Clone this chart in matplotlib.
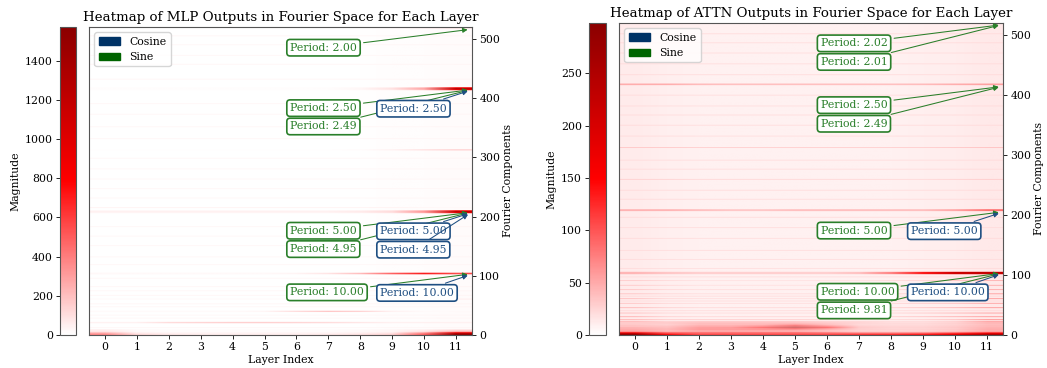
import numpy as np
import matplotlib
matplotlib.use('Agg')
import matplotlib.pyplot as plt
from matplotlib.colors import LinearSegmentedColormap
from matplotlib.patches import Patch

plt.rcParams['font.family'] = 'DejaVu Serif'

layers = list(range(12))
n_comp = 520

# ---- MLP heatmap data (magnitude per layer for notable components)
mlp_base = [6, 5, 4, 4, 4, 4, 4, 5, 6, 8, 10, 14]
mlp_rows = [0, 1, 2, 3, 4, 6, 8, 20, 21, 39, 40, 60, 102, 103, 104,
            205, 206, 207, 208, 209, 214, 311, 412, 413, 414, 415, 416, 516]
mlp_vals = [
    [380, 130, 80, 60, 60, 60, 60, 80, 100, 150, 500, 1572],
    [340, 110, 60, 50, 50, 50, 50, 60, 80, 120, 450, 1450],
    [300, 80, 50, 40, 40, 40, 40, 40, 60, 100, 400, 1300],
    [250, 60, 40, 40, 40, 40, 40, 40, 50, 80, 350, 1100],
    [200, 50, 30, 30, 30, 30, 30, 30, 40, 60, 250, 800],
    [150, 40, 30, 30, 30, 30, 30, 30, 40, 60, 150, 400],
    [120, 40, 30, 30, 30, 30, 30, 30, 40, 60, 100, 200],
    [60, 60, 150, 180, 200, 200, 180, 150, 100, 60, 60, 60],
    [40, 40, 100, 120, 140, 140, 120, 100, 70, 40, 40, 40],
    [20, 20, 20, 20, 20, 40, 150, 250, 200, 60, 20, 20],
    [15, 15, 15, 15, 15, 30, 100, 150, 120, 40, 15, 15],
    [30, 30, 30, 30, 30, 30, 30, 30, 40, 60, 100, 80],
    [20, 20, 20, 20, 20, 20, 30, 60, 150, 400, 600, 450],
    [20, 20, 20, 20, 20, 20, 40, 100, 250, 550, 850, 650],
    [20, 20, 20, 20, 20, 20, 30, 60, 150, 400, 600, 450],
    [30, 30, 30, 30, 30, 30, 30, 30, 40, 80, 250, 800],
    [40, 40, 40, 40, 40, 40, 40, 40, 60, 100, 300, 1100],
    [50, 50, 50, 50, 50, 50, 50, 50, 70, 120, 350, 1250],
    [40, 40, 40, 40, 40, 40, 40, 40, 60, 100, 300, 1100],
    [30, 30, 30, 30, 30, 30, 30, 30, 40, 80, 250, 800],
    [60, 60, 60, 60, 60, 60, 60, 60, 60, 60, 40, 30],
    [10, 10, 10, 10, 10, 10, 10, 10, 30, 80, 200, 300],
    [10, 10, 10, 10, 10, 10, 10, 10, 20, 60, 200, 800],
    [10, 10, 10, 10, 10, 10, 10, 10, 30, 80, 250, 1100],
    [10, 10, 10, 10, 10, 10, 10, 10, 30, 100, 300, 1300],
    [10, 10, 10, 10, 10, 10, 10, 10, 30, 80, 250, 1100],
    [10, 10, 10, 10, 10, 10, 10, 10, 20, 60, 200, 800],
    [10, 10, 10, 10, 10, 10, 10, 10, 10, 30, 80, 150],
]
mlp_faint_rows = [12, 28, 33, 47, 52, 66, 74, 81, 95, 118, 131, 150, 166, 182, 230, 246, 262,
                  279, 297, 330, 350, 371, 389, 430, 455, 470, 488, 503]
mlp_faint_level = 40

# ---- ATTN heatmap data
attn_base = [12, 10, 9, 9, 9, 9, 9, 9, 9, 10, 11, 13]
attn_rows = [0, 1, 2, 3, 4, 6, 8, 10, 12, 14, 16, 18, 20, 22, 25, 30, 36, 45, 52, 60, 68, 75, 82, 90,
             101, 102, 103, 104, 206, 207, 208, 258, 311, 415, 416, 417, 518]
attn_vals = [
    [298, 150, 110, 110, 110, 110, 110, 120, 130, 140, 180, 260],
    [270, 130, 100, 100, 100, 100, 100, 110, 110, 120, 160, 230],
    [230, 110, 90, 90, 90, 90, 90, 90, 90, 100, 130, 190],
    [180, 100, 90, 90, 90, 90, 80, 70, 70, 80, 100, 140],
    [140, 90, 90, 90, 90, 90, 80, 60, 60, 60, 80, 110],
    [110, 80, 100, 100, 95, 90, 70, 50, 45, 45, 60, 90],
    [90, 75, 110, 110, 115, 110, 80, 50, 45, 45, 55, 85],
    [80, 70, 105, 105, 120, 170, 110, 50, 40, 40, 50, 80],
    [70, 60, 95, 100, 140, 240, 140, 50, 40, 40, 50, 70],
    [60, 60, 90, 90, 120, 210, 120, 50, 40, 40, 50, 70],
    [60, 50, 80, 80, 90, 140, 80, 40, 35, 35, 45, 70],
    [50, 50, 70, 70, 70, 80, 60, 40, 35, 35, 45, 70],
    [50, 50, 60, 60, 60, 60, 50, 40, 30, 30, 40, 70],
    [60, 40, 50, 50, 50, 50, 40, 35, 30, 30, 40, 80],
    [60, 40, 40, 40, 40, 40, 35, 30, 30, 35, 50, 90],
    [60, 35, 30, 30, 30, 30, 30, 30, 35, 45, 60, 80],
    [50, 30, 25, 25, 25, 25, 25, 25, 30, 40, 55, 75],
    [55, 35, 28, 28, 28, 28, 28, 28, 35, 45, 60, 80],
    [45, 30, 25, 25, 25, 25, 25, 25, 30, 40, 50, 70],
    [50, 30, 25, 25, 25, 25, 25, 25, 30, 45, 60, 80],
    [45, 30, 25, 25, 25, 25, 25, 25, 30, 40, 55, 75],
    [45, 30, 25, 25, 25, 25, 25, 25, 30, 40, 55, 70],
    [40, 28, 22, 22, 22, 22, 22, 22, 28, 35, 50, 65],
    [40, 28, 22, 22, 22, 22, 22, 22, 28, 35, 50, 65],
    [40, 30, 25, 25, 25, 25, 25, 30, 60, 110, 170, 180],
    [45, 35, 30, 30, 30, 30, 30, 40, 80, 150, 230, 240],
    [45, 35, 30, 30, 30, 30, 30, 40, 80, 160, 250, 260],
    [40, 30, 25, 25, 25, 25, 25, 30, 60, 110, 170, 180],
    [40, 40, 35, 30, 30, 35, 35, 35, 35, 35, 50, 80],
    [60, 60, 50, 45, 45, 50, 50, 50, 50, 50, 70, 110],
    [40, 40, 35, 30, 30, 35, 35, 35, 35, 35, 50, 80],
    [35, 35, 30, 30, 30, 30, 30, 30, 30, 30, 35, 40],
    [45, 45, 40, 40, 40, 40, 40, 40, 40, 40, 45, 50],
    [35, 35, 30, 28, 28, 28, 28, 28, 28, 30, 35, 40],
    [60, 60, 50, 45, 45, 45, 45, 45, 45, 50, 60, 70],
    [35, 35, 30, 28, 28, 28, 28, 28, 28, 30, 35, 40],
    [70, 50, 25, 20, 20, 20, 20, 20, 20, 20, 25, 30],
]
attn_faint_rows = [40, 56, 64, 96, 110, 125, 140, 160, 178, 195, 225, 240, 275, 290,
                   330, 348, 365, 380, 398, 432, 450, 468, 485, 500]
attn_faint_level = 25

# ---- annotations (period label, component index)
mlp_sin_labels = ['2.00', '2.50', '2.49', '5.00', '4.95', '10.00']
mlp_sin_comp = [516, 414, 414, 207, 207, 103]
mlp_cos_labels = ['2.50', '5.00', '4.95', '10.00']
mlp_cos_comp = [413, 206, 206, 102]

attn_sin_labels = ['2.02', '2.01', '2.50', '2.49', '5.00', '10.00', '9.81']
attn_sin_comp = [517, 517, 414, 414, 205, 103, 103]
attn_cos_labels = ['5.00', '10.00']
attn_cos_comp = [204, 102]

sin_color = '#2a7f2a'
cos_color = '#1f4f82'
cmap = LinearSegmentedColormap.from_list('wr', ['white', 'red', 'darkred'])

plt.rcParams['xtick.major.size'] = 2.6
plt.rcParams['ytick.major.size'] = 2.6
plt.rcParams['xtick.major.pad'] = 2.6
plt.rcParams['ytick.major.pad'] = 2.6
plt.rcParams['xtick.major.width'] = 0.6
plt.rcParams['ytick.major.width'] = 0.6
plt.rcParams['axes.linewidth'] = 0.8


def build(base, rows, vals, faint_rows, faint_level):
    M = np.tile(np.array(base, dtype=float), (n_comp, 1))
    for r in faint_rows:
        M[r] = np.maximum(M[r], faint_level)
    for r, v in zip(rows, vals):
        M[r] = np.maximum(M[r], v)
    return M


def annotate(ax, labels, comps, x_text, color):
    prev = None
    k = 0
    for lab, c in zip(labels, comps):
        if prev is not None and abs(c - prev) < 10:
            k += 1
        else:
            k = 0
        prev = c
        ax.annotate('Period: ' + lab, xy=(11.45, c), xytext=(x_text, c - 31 * (k + 1)),
                    fontsize=7.8, color=color, ha='left', va='center',
                    bbox=dict(boxstyle='round,pad=0.3', fc='white', ec=color, lw=1.2),
                    arrowprops=dict(arrowstyle='-|>', color=color, lw=0.75, mutation_scale=7))


def panel(cax, ax, M, title, sin, cos):
    im = ax.imshow(M, origin='lower', aspect='auto', cmap=cmap, vmin=0, vmax=M.max(),
                   extent=[-0.5, 11.5, 0, n_comp], interpolation='bilinear')
    cb = plt.colorbar(im, cax=cax)
    cax.yaxis.set_ticks_position('left')
    cax.yaxis.set_label_position('left')
    cb.set_label('Magnitude', fontsize=7.8, labelpad=3)
    cax.tick_params(labelsize=7.8)
    cb.outline.set_edgecolor('#555555')
    cb.outline.set_linewidth(0.8)
    ax.set_title(title, fontsize=9.6, pad=4)
    ax.set_xticks(layers)
    ax.set_xlabel('Layer Index', fontsize=7.8, labelpad=2)
    ax.yaxis.tick_right()
    ax.yaxis.set_label_position('right')
    ax.set_yticks([0, 100, 200, 300, 400, 500])
    ax.set_ylabel('Fourier Components', fontsize=7.8, labelpad=2)
    ax.tick_params(labelsize=7.8)
    for s in ax.spines.values():
        s.set_edgecolor('#555555')
    annotate(ax, sin[0], sin[1], 5.8, sin_color)
    annotate(ax, cos[0], cos[1], 8.62, cos_color)
    handles = [Patch(color='#003366', label='Cosine'), Patch(color='#006400', label='Sine')]
    ax.legend(handles=handles, loc='upper left', fontsize=7.8)


fig = plt.figure(figsize=(10.47, 3.68), dpi=100)
cax1 = fig.add_axes([0.0573, 0.0897, 0.0153, 0.837])
ax1 = fig.add_axes([0.085, 0.0897, 0.3658, 0.837])
cax2 = fig.add_axes([0.5626, 0.0897, 0.0162, 0.848])
ax2 = fig.add_axes([0.5912, 0.0897, 0.3668, 0.848])

M1 = build(mlp_base, mlp_rows, mlp_vals, mlp_faint_rows, mlp_faint_level)
M2 = build(attn_base, attn_rows, attn_vals, attn_faint_rows, attn_faint_level)

panel(cax1, ax1, M1, 'Heatmap of MLP Outputs in Fourier Space for Each Layer',
      (mlp_sin_labels, mlp_sin_comp), (mlp_cos_labels, mlp_cos_comp))
panel(cax2, ax2, M2, 'Heatmap of ATTN Outputs in Fourier Space for Each Layer',
      (attn_sin_labels, attn_sin_comp), (attn_cos_labels, attn_cos_comp))

fig.savefig('out.png', dpi=100)
